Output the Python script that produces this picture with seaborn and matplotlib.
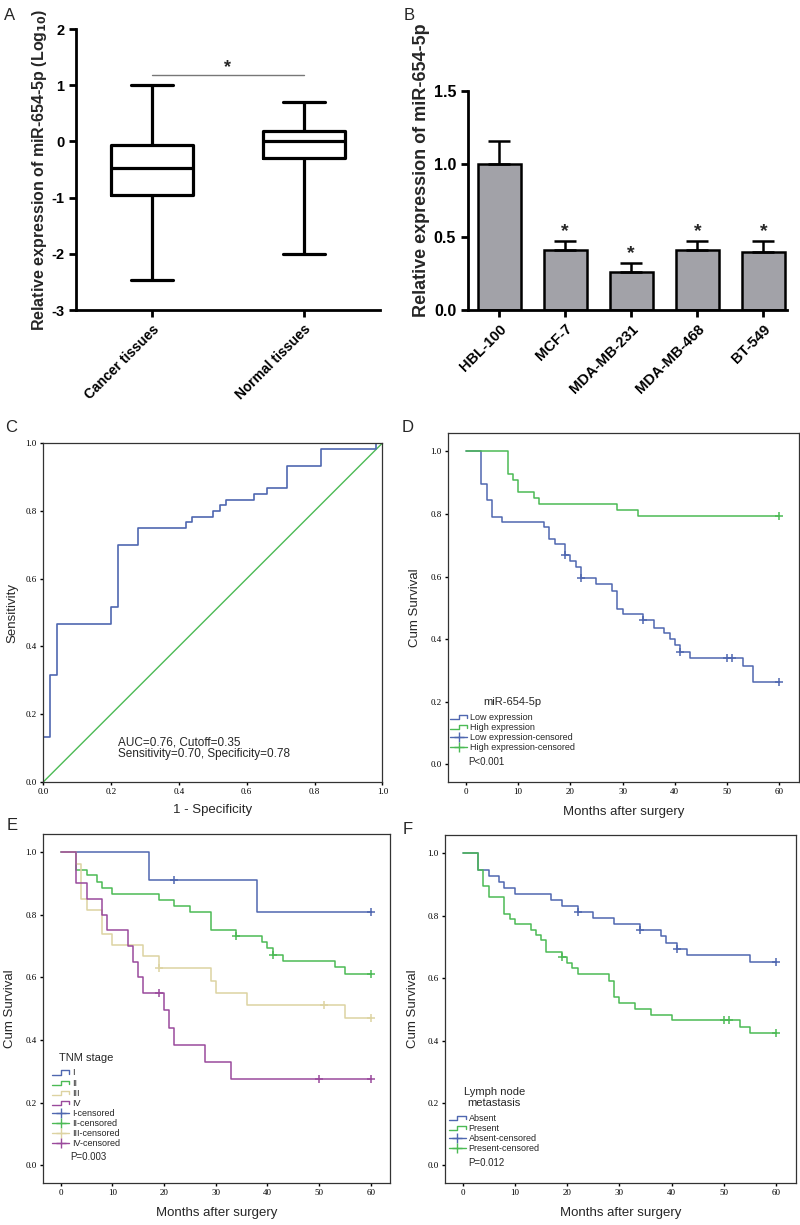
import numpy as np
import seaborn as sns
import matplotlib.pyplot as plt
from matplotlib.lines import Line2D
from matplotlib.legend_handler import HandlerBase

# ---- data ------------------------------------------------------------
# A: box stats (min, q1, median, q3, max)
tissue_groups = ["Cancer tissues", "Normal tissues"]
cancer_box = [-2.47, -0.95, -0.47, -0.06, 1.0]
normal_box = [-2.0, -0.30, 0.0, 0.18, 0.70]

# B: cell lines
cell_lines = ["HBL-100", "MCF-7", "MDA-MB-231", "MDA-MB-468", "BT-549"]
cell_expr = [1.0, 0.41, 0.26, 0.41, 0.40]
cell_err = [0.16, 0.06, 0.06, 0.06, 0.07]
cell_sig = [False, True, True, True, True]

# C: ROC
roc_fpr = [0, 0, 0.02, 0.04, 0.20, 0.22, 0.28, 0.42, 0.44, 0.50, 0.52, 0.54, 0.62, 0.66, 0.72, 0.82, 0.98, 1.0]
roc_tpr = [0, 0.133, 0.317, 0.467, 0.517, 0.70, 0.75, 0.767, 0.783, 0.80, 0.817, 0.833, 0.85, 0.867, 0.933, 0.983, 1.0, 1.0]

# D: miR-654-5p expression
low_t = [0, 3, 4, 5, 7, 15, 16, 17, 19, 20, 21, 22, 25, 28, 29, 30, 34, 36, 38, 39, 40, 41, 43, 53, 55, 60]
low_s = [1.0, 0.896, 0.843, 0.79, 0.773, 0.757, 0.72, 0.703, 0.668, 0.649, 0.631, 0.594, 0.577, 0.555,
         0.497, 0.48, 0.46, 0.437, 0.419, 0.40, 0.38, 0.36, 0.339, 0.315, 0.264, 0.264]
low_cens = [19, 22, 34, 41, 50, 51, 60]
high_t = [0, 8, 9, 10, 13, 14, 29, 33, 60]
high_s = [1.0, 0.926, 0.908, 0.87, 0.852, 0.832, 0.812, 0.793, 0.793]
high_cens = [60]

# E: TNM stage
st1_t = [0, 17, 38, 60]
st1_s = [1.0, 0.91, 0.81, 0.81]
st1_cens = [22, 60]
st2_t = [0, 3, 5, 7, 8, 10, 19, 22, 25, 29, 34, 39, 40, 41, 43, 53, 55, 60]
st2_s = [1.0, 0.944, 0.926, 0.906, 0.886, 0.866, 0.847, 0.828, 0.809, 0.752, 0.732, 0.712, 0.694,
         0.673, 0.651, 0.633, 0.612, 0.612]
st2_cens = [34, 41, 60]
st3_t = [0, 3, 4, 5, 8, 10, 16, 19, 29, 30, 36, 55, 60]
st3_s = [1.0, 0.962, 0.85, 0.815, 0.739, 0.704, 0.667, 0.63, 0.589, 0.551, 0.511, 0.47, 0.47]
st3_cens = [19, 51, 60]
st4_t = [0, 3, 5, 8, 9, 13, 14, 15, 16, 20, 21, 22, 28, 33, 60]
st4_s = [1.0, 0.90, 0.85, 0.80, 0.75, 0.70, 0.65, 0.60, 0.55, 0.495, 0.44, 0.386, 0.331, 0.277, 0.277]
st4_cens = [19, 50, 60]

# F: lymph node metastasis
abs_t = [0, 3, 5, 7, 8, 10, 17, 19, 22, 25, 29, 34, 38, 39, 41, 43, 55, 60]
abs_s = [1.0, 0.945, 0.927, 0.909, 0.888, 0.869, 0.849, 0.83, 0.812, 0.793, 0.773, 0.753, 0.734,
         0.714, 0.694, 0.673, 0.653, 0.653]
abs_cens = [22, 34, 41, 60]
pre_t = [0, 3, 4, 5, 8, 9, 10, 13, 14, 15, 16, 19, 20, 21, 22, 28, 29, 30, 33, 36, 40, 53, 55, 60]
pre_s = [1.0, 0.945, 0.896, 0.86, 0.806, 0.789, 0.772, 0.755, 0.738, 0.721, 0.684, 0.668, 0.649,
         0.631, 0.613, 0.591, 0.538, 0.521, 0.501, 0.483, 0.465, 0.443, 0.423, 0.423]
pre_cens = [19, 50, 51, 60]

BLUE = "#4f67b0"
GREEN = "#4cba55"
TAN = "#ddd3a2"
PURPLE = "#9a4a9c"

sns.set_theme(style="white")
plt.rcParams["font.family"] = ["Liberation Sans", "DejaVu Sans"]
plt.rcParams["axes.unicode_minus"] = False


class StepProxy(Line2D):
    pass


class StepHandler(HandlerBase):
    # little step icon like SPSS legends
    def create_artists(self, legend, orig_handle, xdescent, ydescent, width, height, fontsize, trans):
        x0, y0 = -xdescent, -ydescent
        lo, hi = y0 + 0.1 * height, y0 + 0.8 * height
        xs = [x0, x0 + 0.5 * width, x0 + 0.5 * width, x0 + width, x0 + width]
        ys = [lo, lo, hi, hi, lo + 0.2 * height]
        ln = Line2D(xs, ys, color=orig_handle.get_color(), lw=1.0, transform=trans)
        return [ln]


def km_curve(ax, t, s, cens, color):
    sns.lineplot(x=t, y=s, estimator=None, sort=False, drawstyle="steps-post",
                 color=color, linewidth=1.1, ax=ax)
    t_arr = np.array(t)
    cy = [s[np.searchsorted(t_arr, c, side="right") - 1] for c in cens]
    ax.plot(cens, cy, linestyle="none", marker="+", ms=6, mew=1.1, color=color)


def spss_axes(ax, xlabel, ylabel):
    for sp in ax.spines.values():
        sp.set_visible(True)
        sp.set_color("#333333")
        sp.set_linewidth(0.9)
    ax.tick_params(axis="both", direction="out", length=2.5, width=1.0, colors="black",
                   labelsize=6.5, pad=2, bottom=True, left=True)
    for lab in ax.get_xticklabels() + ax.get_yticklabels():
        lab.set_family("Liberation Serif")
    ax.set_xlabel(xlabel, fontsize=9.5)
    ax.set_ylabel(ylabel, fontsize=9.5)


def km_axes(ax, ylab_x):
    ax.set_xlim(-3.4, 63.8)
    ax.set_ylim(-0.056, 1.058)
    ax.set_xticks(range(0, 61, 10))
    ax.set_yticks(np.arange(0, 1.01, 0.2))
    ax.set_yticklabels([f"{v:.1f}" for v in np.arange(0, 1.01, 0.2)])
    spss_axes(ax, "Months after surgery", "Cum Survival")
    ax.xaxis.set_label_coords(0.5, -0.069)
    ax.yaxis.set_label_coords(ylab_x, 0.5)


def km_legend(ax, title, labels, colors, anchor):
    handles = [StepProxy([], [], color=c) for c in colors]
    handles += [Line2D([], [], color=c, lw=1.0, marker="+", ms=7, mew=1.0) for c in colors]
    labs = labels + [f"{l}-censored" for l in labels]
    leg = ax.legend(handles, labs, title=title, loc="lower left", bbox_to_anchor=anchor,
                    frameon=False, fontsize=6.5, title_fontsize=8, handlelength=1.9,
                    handletextpad=0.3, labelspacing=0.12, borderpad=0, borderaxespad=0,
                    numpoints=1, handler_map={StepProxy: StepHandler()})
    leg.get_title().set_multialignment("center")
    leg._legend_box.sep = 4


fig = plt.figure(figsize=(8, 12.25), dpi=100)

# ---- A -----------------------------------------------------------------
axA = fig.add_axes([0.095, 0.7469, 0.38, 0.2294])
box_x = [tissue_groups[0]] * len(cancer_box) + [tissue_groups[1]] * len(normal_box)
box_y = cancer_box + normal_box
sns.boxplot(x=box_x, y=box_y, whis=(0, 100), fill=False, color="black", linewidth=2.3,
            width=0.54, showfliers=False, ax=axA)
for ln in axA.lines:
    ln.set_color("black")
axA.set_xlim(-0.5, 1.5)
axA.set_ylim(-3, 2)
axA.set_yticks(range(-3, 3))
sns.despine(ax=axA)
for sp in ["left", "bottom"]:
    axA.spines[sp].set_linewidth(2.0)
    axA.spines[sp].set_color("black")
axA.tick_params(axis="both", direction="out", length=5, width=2, colors="black",
                labelsize=10.5, left=True, bottom=True)
axA.set_xticks([0, 1])
axA.set_xticklabels(tissue_groups, rotation=45, ha="right", rotation_mode="anchor",
                    fontweight="bold", fontsize=10)
for lab in axA.get_yticklabels():
    lab.set_fontweight("bold")
axA.set_ylabel(r"Relative expression of miR-654-5p (Log$_{\mathbf{10}}$)", fontsize=11.5,
               fontweight="bold")
axA.yaxis.set_label_coords(-0.09, 0.5)
axA.plot([0, 1], [1.18, 1.18], color="#777777", lw=1.0)
axA.text(0.5, 1.17, "*", ha="center", va="bottom", fontsize=13, fontweight="bold")

# ---- B -----------------------------------------------------------------
axB = fig.add_axes([0.585, 0.7469, 0.399, 0.1788])
sns.barplot(x=cell_lines, y=cell_expr, color="#a2a2a8", saturation=1, edgecolor="black",
            linewidth=1.8, width=0.65, ax=axB)
axB.errorbar(range(len(cell_lines)), cell_expr, yerr=[np.zeros(len(cell_err)), cell_err],
             fmt="none", ecolor="black", elinewidth=1.8, capsize=8, capthick=1.8, zorder=1)
for i, (v, e, sig) in enumerate(zip(cell_expr, cell_err, cell_sig)):
    if sig:
        axB.text(i, v + e + 0.01, "*", ha="center", va="bottom", fontsize=14, fontweight="bold")
axB.set_xlim(-0.47, 4.36)
axB.set_ylim(0, 1.5)
axB.set_yticks([0, 0.5, 1.0, 1.5])
axB.set_yticklabels(["0.0", "0.5", "1.0", "1.5"])
sns.despine(ax=axB)
for sp in ["left", "bottom"]:
    axB.spines[sp].set_linewidth(2.0)
    axB.spines[sp].set_color("black")
axB.tick_params(axis="both", direction="out", length=5, width=2, colors="black",
                labelsize=11.5, left=True, bottom=True)
axB.set_xticks(range(len(cell_lines)))
axB.set_xticklabels(cell_lines, rotation=45, ha="right", rotation_mode="anchor",
                    fontweight="bold", fontsize=10.5)
for lab in axB.get_yticklabels():
    lab.set_fontweight("bold")
axB.set_ylabel("Relative expression of miR-654-5p", fontsize=13, fontweight="bold")
axB.yaxis.set_label_coords(-0.12, 0.64)

# ---- C -----------------------------------------------------------------
axC = fig.add_axes([0.054, 0.3616, 0.424, 0.2767])
sns.lineplot(x=[0, 1], y=[0, 1], estimator=None, color=GREEN, linewidth=1.0, ax=axC)
sns.lineplot(x=roc_fpr, y=roc_tpr, estimator=None, sort=False, drawstyle="steps-post",
             color=BLUE, linewidth=1.2, ax=axC)
axC.set_xlim(0, 1)
axC.set_ylim(0, 1)
ticks = np.arange(0, 1.01, 0.2)
axC.set_xticks(ticks)
axC.set_yticks(ticks)
axC.set_xticklabels([f"{v:.1f}" for v in ticks])
axC.set_yticklabels([f"{v:.1f}" for v in ticks])
spss_axes(axC, "1 - Specificity", "Sensitivity")
axC.xaxis.set_label_coords(0.5, -0.065)
axC.yaxis.set_label_coords(-0.074, 0.5)
axC.text(0.22, 0.10, "AUC=0.76, Cutoff=0.35\nSensitivity=0.70, Specificity=0.78",
         fontsize=8.5, va="center", ha="left", linespacing=1.0)

# ---- D -----------------------------------------------------------------
axD = fig.add_axes([0.56, 0.3616, 0.439, 0.2849])
km_curve(axD, low_t, low_s, low_cens, BLUE)
km_curve(axD, high_t, high_s, high_cens, GREEN)
km_axes(axD, -0.077)
km_legend(axD, "miR-654-5p", ["Low expression", "High expression"], [BLUE, GREEN], (0.006, 0.086))
axD.text(0.057, 0.057, "P<0.001", transform=axD.transAxes, fontsize=7, va="center")

# ---- E -----------------------------------------------------------------
axE = fig.add_axes([0.054, 0.0343, 0.434, 0.2849])
for t, s, c, col in [(st1_t, st1_s, st1_cens, BLUE), (st2_t, st2_s, st2_cens, GREEN),
                     (st3_t, st3_s, st3_cens, TAN), (st4_t, st4_s, st4_cens, PURPLE)]:
    km_curve(axE, t, s, c, col)
km_axes(axE, -0.078)
km_legend(axE, "TNM stage", ["I", "II", "III", "IV"], [BLUE, GREEN, TAN, PURPLE], (0.026, 0.10))
axE.text(0.078, 0.075, "P=0.003", transform=axE.transAxes, fontsize=7, va="center")

# ---- F -----------------------------------------------------------------
axF = fig.add_axes([0.556, 0.0343, 0.439, 0.284])
km_curve(axF, abs_t, abs_s, abs_cens, BLUE)
km_curve(axF, pre_t, pre_s, pre_cens, GREEN)
km_axes(axF, -0.074)
km_legend(axF, "Lymph node\nmetastasis", ["Absent", "Present"], [BLUE, GREEN], (0.011, 0.086))
axF.text(0.066, 0.057, "P=0.012", transform=axF.transAxes, fontsize=7, va="center")

# panel letters
for letter, px, py in [("A", 10, 15), ("B", 409, 15), ("C", 11, 428), ("D", 408, 428),
                       ("E", 12, 825), ("F", 408, 830)]:
    fig.text(px / 800, 1 - py / 1225, letter, fontsize=12, ha="center", va="center")

fig.savefig("out.png", dpi=100)
